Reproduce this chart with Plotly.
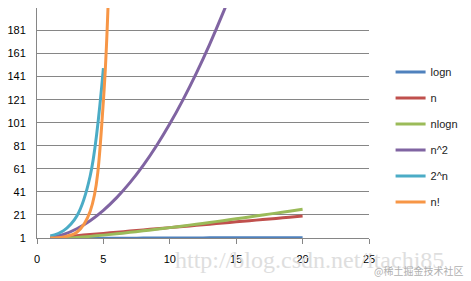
import plotly.graph_objects as go

n_vals = list(range(1, 21))
logn = [0.0, 0.301, 0.477, 0.602, 0.699, 0.778, 0.845, 0.903, 0.954, 1.0,
        1.041, 1.079, 1.114, 1.146, 1.176, 1.204, 1.230, 1.255, 1.279, 1.301]
lin_n = [1, 2, 3, 4, 5, 6, 7, 8, 9, 10, 11, 12, 13, 14, 15, 16, 17, 18, 19, 20]
nlogn = [0.0, 0.6, 1.43, 2.41, 3.49, 4.67, 5.92, 7.22, 8.59, 10.0,
         11.46, 12.95, 14.48, 16.05, 17.64, 19.27, 20.92, 22.59, 24.29, 26.02]
n_sq = [1, 4, 9, 16, 25, 36, 49, 64, 81, 100, 121, 144, 169, 196, 225, 256, 289, 324, 361, 400]
two_n = [2.7, 7.4, 20.1, 54.6, 148.4]
n_fact = [1, 2, 6, 24, 120, 720, 5040, 40320]

names = ["logn", "n", "nlogn", "n^2", "2^n", "n!"]
colors = ["#4F81BD", "#C0504D", "#9BBB59", "#8064A2", "#4BACC6", "#F79646"]
series = [logn, lin_n, nlogn, n_sq, two_n, n_fact]

y_ticks = [1, 21, 41, 61, 81, 101, 121, 141, 161, 181]
x_ticks = [0, 5, 10, 15, 20, 25]

fig = go.Figure()
for i, (nm, col, ys) in enumerate(zip(names, colors, series)):
    fig.add_trace(go.Scatter(
        x=n_vals[:len(ys)], y=ys, name=nm, mode="lines",
        line=dict(color=col, width=3, shape="spline", smoothing=1.0),
        legendgroup=str(i),
    ))

fig.update_layout(
    width=471, height=281,
    margin=dict(l=37, r=100, t=8, b=43),
    paper_bgcolor="white", plot_bgcolor="white",
    font=dict(family="Liberation Sans, Arial, sans-serif", size=11, color="#000000"),
    showlegend=True,
    legend=dict(x=1.065, y=0.785, xanchor="left", yanchor="top",
                tracegroupgap=7, traceorder="grouped",
                font=dict(size=11, color="#222222"), itemwidth=30,
                bgcolor="rgba(0,0,0,0)"),
    xaxis=dict(range=[0, 25], tickvals=x_ticks, showgrid=False, zeroline=False,
               showline=True, linecolor="#868686", linewidth=1,
               ticks="outside", ticklen=5, tickcolor="#868686",
               ticklabelstandoff=6),
    yaxis=dict(range=[1, 200.5], tickvals=y_ticks, showgrid=True, gridcolor="#868686",
               gridwidth=1, zeroline=False, showline=True, linecolor="#868686",
               linewidth=1, ticks="", ticklabelstandoff=8),
)

fig.add_annotation(text="http://blog.csdn.net/itachi85", xref="paper", yref="paper",
                   x=0.82, y=-0.03, xanchor="center", yanchor="top", showarrow=False,
                   font=dict(family="Liberation Serif, serif", size=24, color="#dedede"))
fig.add_annotation(text="@稀土掘金技术社区", xref="paper", yref="paper",
                   x=1.29, y=-0.143, xanchor="right", yanchor="middle", showarrow=False,
                   font=dict(family="Noto Sans CJK SC", size=10, color="#b0b0b0"))

fig.write_html("out.html")
